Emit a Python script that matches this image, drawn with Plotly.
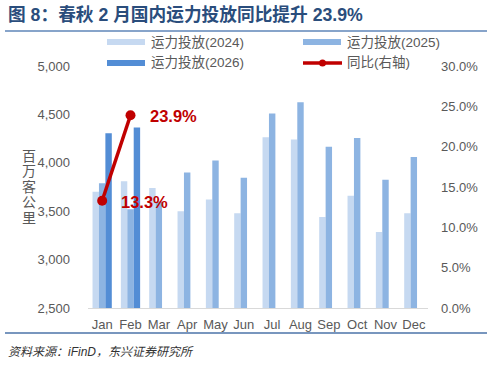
import plotly.graph_objects as go

months = ["Jan", "Feb", "Mar", "Apr", "May", "Jun", "Jul", "Aug", "Sep", "Oct", "Nov", "Dec"]
cap_2024 = [3700, 3810, 3740, 3500, 3620, 3480, 4265, 4240, 3440, 3660, 3285, 3480]
cap_2025 = [3790, 3520, 3600, 3900, 4025, 3845, 4510, 4625, 4165, 4255, 3825, 4060]
cap_2026 = [4305, 4365]
months_2026 = ["Jan", "Feb"]
yoy = [0.133, 0.239]
yoy_labels = ["13.3%", "23.9%"]
ytitle_chars = ["百", "万", "客", "公", "里"]

W, H = 492, 365
L, R, T, B = 88, 428, 66, 308

def px(x):
    return (x - L) / (R - L)

def py(y):
    return (B - y) / (B - T)

FONT = "Liberation Sans, Arial, Noto Sans CJK SC, sans-serif"
GRAY = "#595959"
C24, C25, C26, RED = "#C6D9F1", "#8DB4E2", "#538DD5", "#C00000"

fig = go.Figure()
fig.add_trace(go.Bar(x=months, y=cap_2024, name="运力投放(2024)", marker_color=C24, marker_line_width=0))
fig.add_trace(go.Bar(x=months, y=cap_2025, name="运力投放(2025)", marker_color=C25, marker_line_width=0))
fig.add_trace(go.Bar(x=months_2026, y=cap_2026, name="运力投放(2026)", marker_color=C26, marker_line_width=0))
fig.add_trace(go.Scatter(x=months_2026, y=yoy, name="同比(右轴)", yaxis="y2", mode="lines+markers",
                         line=dict(color=RED, width=3.5), marker=dict(color=RED, size=10)))

annotations = []
for m, v, t in zip(months_2026, yoy, yoy_labels):
    annotations.append(dict(x=m, y=v, xref="x", yref="y2", text="<b>%s</b>" % t, showarrow=False,
                            xanchor="left", yanchor="middle", xshift=17, yshift=-1,
                            font=dict(size=16.5, color=RED, family=FONT)))

# title
annotations.append(dict(x=px(6), y=py(15), xref="paper", yref="paper", text="<b>图 8：春秋 2 月国内运力投放同比提升 23.9%</b>",
                        showarrow=False, xanchor="left", yanchor="middle",
                        font=dict(size=17.7, color="#2A4D7C", family=FONT)))
# source
annotations.append(dict(x=px(6), y=py(352), xref="paper", yref="paper", text="<i>资料来源：iFinD，东兴证券研究所</i>",
                        showarrow=False, xanchor="left", yanchor="middle",
                        font=dict(size=12, color="#333333", family=FONT)))
# y-axis title (stacked characters)
for i, ch in enumerate(ytitle_chars):
    annotations.append(dict(x=px(29), y=py(156 + 15.4 * i), xref="paper", yref="paper", text=ch,
                            showarrow=False, xanchor="center", yanchor="middle",
                            font=dict(size=14, color=GRAY, family=FONT)))

shapes = [
    dict(type="line", xref="paper", yref="paper", x0=px(5), x1=px(487), y0=py(31), y1=py(31),
         line=dict(color="#5F86B8", width=1.3)),
    dict(type="line", xref="paper", yref="paper", x0=px(5), x1=px(487), y0=py(333), y1=py(333),
         line=dict(color="#7896BE", width=2)),
]

# manual legend
legend_items = [
    (107, 42, C24, "bar", "运力投放(2024)"),
    (303, 42, C25, "bar", "运力投放(2025)"),
    (107, 63, C26, "bar", "运力投放(2026)"),
    (303, 63, RED, "line", "同比(右轴)"),
]
for x0, yc, col, kind, label in legend_items:
    if kind == "bar":
        shapes.append(dict(type="rect", xref="paper", yref="paper", x0=px(x0), x1=px(x0 + 38),
                           y0=py(yc + 3), y1=py(yc - 3), fillcolor=col, line_width=0))
    else:
        shapes.append(dict(type="line", xref="paper", yref="paper", x0=px(x0), x1=px(x0 + 39),
                           y0=py(yc), y1=py(yc), line=dict(color=col, width=3.5)))
        shapes.append(dict(type="circle", xref="paper", yref="paper", x0=px(x0 + 16), x1=px(x0 + 23),
                           y0=py(yc + 3.5), y1=py(yc - 3.5), fillcolor=col, line_width=0))
    annotations.append(dict(x=px(x0 + 42), y=py(yc), xref="paper", yref="paper", text=label,
                            showarrow=False, xanchor="left", yanchor="middle",
                            font=dict(size=13.5, color=GRAY, family=FONT)))

fig.update_layout(
    width=W, height=H,
    margin=dict(l=L, r=W - R, t=T, b=H - B, autoexpand=False),
    paper_bgcolor="white", plot_bgcolor="white",
    barmode="group", bargap=0.32, bargroupgap=0,
    showlegend=False,
    font=dict(family=FONT, size=13, color=GRAY),
    xaxis=dict(range=[-0.5, len(months) - 0.5], categoryorder="array", categoryarray=months,
               showline=True, linecolor="#D9D9D9", linewidth=1, showgrid=False, ticks="",
               tickfont=dict(size=13, color=GRAY), ticklabelstandoff=4, automargin=False),
    yaxis=dict(range=[2500, 5000], dtick=500, tickformat=",", showgrid=False, zeroline=False,
               showline=False, ticks="", tickfont=dict(size=13, color=GRAY), ticklabelstandoff=17,
               automargin=False),
    yaxis2=dict(range=[0, 0.30], dtick=0.05, tickformat=".1%", overlaying="y", side="right",
                showgrid=False, zeroline=False, showline=False, ticks="",
                tickfont=dict(size=13, color=GRAY), ticklabelstandoff=12, automargin=False),
    annotations=annotations, shapes=shapes,
)

fig.write_html("out.html")
